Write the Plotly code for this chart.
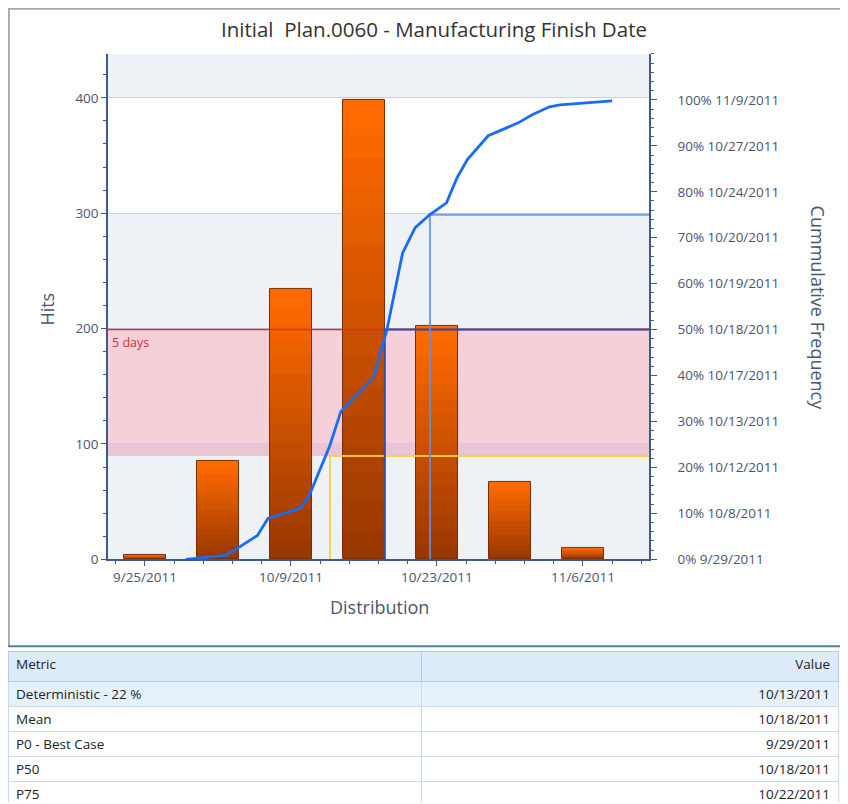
"""
制造完成日期分布图（Plotly 复刻）
- 左轴：命中次数柱状图
- 右轴：累计频率曲线
- 下方：指标表格
"""
import plotly.graph_objects as go

# ---- 数据 ----
week_dates = ["2011-09-25", "2011-10-02", "2011-10-09", "2011-10-16",
              "2011-10-23", "2011-10-30", "2011-11-06"]
hits = [4, 85, 234, 398, 202, 67, 10]

cum_dates = ["2011-09-28 22:00", "2011-10-02 20:00", "2011-10-05 19:00",
             "2011-10-06 19:00", "2011-10-09 22:00", "2011-10-10 19:00",
             "2011-10-12 17:00", "2011-10-13 19:00", "2011-10-16 22:00",
             "2011-10-18 05:00", "2011-10-19 17:00", "2011-10-20 22:00",
             "2011-10-22 07:00", "2011-10-23 22:00", "2011-10-24 22:00",
             "2011-10-25 22:00", "2011-10-27 22:00", "2011-10-30 19:00",
             "2011-11-01 02:00", "2011-11-02 19:00", "2011-11-03 19:00",
             "2011-11-06 10:00", "2011-11-08 19:00"]
cum_pct = [0, 0.9, 5.2, 8.9, 11.1, 14.1, 24.6, 32.2, 39.6, 50, 66.7, 72.2,
           75, 77.6, 83, 87, 92.2, 95, 96.7, 98.5, 98.9, 99.3, 99.8]

pct_ticks = [0, 10, 20, 30, 40, 50, 60, 70, 80, 90, 100]
pct_dates = ["9/29/2011", "10/8/2011", "10/12/2011", "10/13/2011", "10/17/2011",
             "10/18/2011", "10/19/2011", "10/20/2011", "10/24/2011",
             "10/27/2011", "11/9/2011"]

# 标记线：确定性 / 均值(P50) / P75
det_date, det_pct = "2011-10-12 18:00", 22.5
p50_date, p50_pct = "2011-10-18", 50
p75_date, p75_pct = "2011-10-22 08:00", 75
band_label = "5 days"

metrics = ["Deterministic - 22 %", "Mean", "P0 - Best Case", "P50", "P75"]
metric_values = ["10/13/2011", "10/18/2011", "9/29/2011", "10/18/2011", "10/22/2011"]

X_RANGE = ["2011-09-21 11:00", "2011-11-12 08:00"]
W, H = 848, 804
FONT = "Open Sans"
AXIS_BLUE = "#3D5A8C"
TEXT = "#4A5570"

# 页面有 8px 的外边距，按截图像素换算成 paper 坐标
OFF = 8


def px_x(v):
    return max(0.0, (v - OFF) / W)


def px_y(v):
    return min(1.0, 1 - (v - OFF) / (H - OFF))


def blend(c1, c2, t):
    a = [int(c1[i:i + 2], 16) for i in (1, 3, 5)]
    b = [int(c2[i:i + 2], 16) for i in (1, 3, 5)]
    return "#%02x%02x%02x" % tuple(round(a[i] + (b[i] - a[i]) * t) for i in range(3))


fig = go.Figure()

# 渐变柱：从上到下由亮橙到深棕，叠加多层
n_layers = 16
bar_w = 4.1 * 86400000
for i in range(n_layers):
    f = 1 - i / n_layers
    fig.add_trace(go.Bar(
        x=week_dates, y=[h * f for h in hits], width=bar_w,
        marker=dict(color=blend("#FF6A00", "#9A3800", i / (n_layers - 1)), line_width=0),
        hoverinfo="skip", showlegend=False,
    ))
# 柱子边框
fig.add_trace(go.Bar(
    x=week_dates, y=hits, width=bar_w,
    marker=dict(color="rgba(0,0,0,0)", line=dict(color="#7A2E00", width=1)),
    showlegend=False, name="Hits",
))

# 标记线（右轴）
fig.add_trace(go.Scatter(
    x=[det_date, det_date, X_RANGE[1]], y=[0, det_pct, det_pct], yaxis="y2",
    mode="lines", line=dict(color="rgba(248,208,60,0.9)", width=2),
    hoverinfo="skip", showlegend=False,
))
fig.add_trace(go.Scatter(
    x=[X_RANGE[0], X_RANGE[1]], y=[p50_pct, p50_pct], yaxis="y2",
    mode="lines", line=dict(color="#D0303A", width=1.5),
    hoverinfo="skip", showlegend=False,
))
fig.add_trace(go.Scatter(
    x=[p50_date, p50_date, X_RANGE[1]], y=[0, p50_pct, p50_pct], yaxis="y2",
    mode="lines", line=dict(color="#3A4A9C", width=2),
    hoverinfo="skip", showlegend=False,
))
fig.add_trace(go.Scatter(
    x=[p75_date, p75_date, X_RANGE[1]], y=[0, p75_pct, p75_pct], yaxis="y2",
    mode="lines", line=dict(color="rgba(90,145,235,0.85)", width=2),
    hoverinfo="skip", showlegend=False,
))

# 累计频率曲线
fig.add_trace(go.Scatter(
    x=cum_dates, y=cum_pct, yaxis="y2", mode="lines",
    line=dict(color="#1A6CF2", width=2.8), showlegend=False,
    name="Cummulative Frequency",
))

# 指标表格
fig.add_trace(go.Table(
    domain=dict(x=[px_x(8), px_x(838)], y=[0, px_y(652)]),
    columnwidth=[413, 417],
    header=dict(
        values=["Metric", "Value"], align=["left", "right"],
        fill_color="#DCEAFA", line_color="#B5CDEA", height=30,
        font=dict(family=FONT, size=13.5, color="#222"),
    ),
    cells=dict(
        values=[metrics, metric_values], align=["left", "right"],
        fill_color=[["#E6F0FB"] + ["white"] * (len(metrics) - 1)] * 2,
        line_color="#C8DCF0", height=25,
        font=dict(family=FONT, size=13.5, color="#222"),
    ),
))

shapes = []
# 交错背景条
for y0, y1 in [(0, 100), (200, 300), (400, 440)]:
    shapes.append(dict(type="rect", xref="x domain", yref="y", x0=0, x1=1, y0=y0, y1=y1,
                       fillcolor="#EEF1F6", line_width=0, layer="below"))
# 粉色区间
shapes.append(dict(type="rect", xref="x domain", yref="y2", x0=0, x1=1, y0=det_pct, y1=p50_pct,
                   fillcolor="rgba(220,80,110,0.27)", line_width=0, layer="below"))
# 外框
shapes += [
    dict(type="line", xref="paper", yref="paper", x0=0.001, x1=0.001, y0=0.999, y1=px_y(647),
         line=dict(color="#A8A8A8", width=2)),
    dict(type="line", xref="paper", yref="paper", x0=0, x1=1, y0=0.999, y1=0.999,
         line=dict(color="#A8A8A8", width=2)),
    dict(type="line", xref="paper", yref="paper", x0=0, x1=1, y0=px_y(647), y1=px_y(647),
         line=dict(color="#4E7DB0", width=2)),
]

annotations = [
    dict(text="Initial  Plan.0060 - Manufacturing Finish Date", xref="paper", yref="paper",
         x=px_x(434), y=px_y(29), xanchor="center", yanchor="middle", showarrow=False,
         font=dict(family=FONT, size=20.5, color="#333")),
    dict(text="Hits", xref="paper", yref="paper", x=px_x(47), y=px_y(310), textangle=-90,
         xanchor="center", yanchor="middle", showarrow=False,
         font=dict(family=FONT, size=18, color=TEXT)),
    dict(text="Distribution", xref="paper", yref="paper", x=px_x(379), y=px_y(608),
         xanchor="center", yanchor="middle", showarrow=False,
         font=dict(family=FONT, size=18, color=TEXT)),
    dict(text="Cummulative Frequency", xref="paper", yref="paper", x=px_x(818), y=px_y(308),
         textangle=90, xanchor="center", yanchor="middle", showarrow=False,
         font=dict(family=FONT, size=18, color=TEXT)),
    dict(text=band_label, xref="x domain", yref="y2", x=0.003, y=p50_pct - 0.6,
         xanchor="left", yanchor="top", showarrow=False,
         font=dict(family=FONT, size=12.5, color="#D0303A")),
]

fig.update_layout(
    width=W, height=H,
    margin=dict(l=0, r=0, t=0, b=0),
    paper_bgcolor="white", plot_bgcolor="white",
    barmode="overlay", bargap=0,
    font=dict(family=FONT, size=13, color=TEXT),
    shapes=shapes, annotations=annotations,
    xaxis=dict(
        type="date", range=X_RANGE, domain=[px_x(108), px_x(649)],
        tick0="2011-09-25", dtick=14 * 86400000, tickformat="%-m/%-d/%Y",
        ticks="outside", ticklen=5, tickcolor=AXIS_BLUE,
        minor=dict(tick0="2011-09-25", dtick=2.8 * 86400000, ticks="outside",
                   ticklen=3, tickcolor=AXIS_BLUE, showgrid=False),
        showline=True, linecolor=AXIS_BLUE, linewidth=1.5, showgrid=False,
        zeroline=False, tickfont=dict(size=13.5, color=TEXT), anchor="y",
    ),
    yaxis=dict(
        range=[0, 438], domain=[px_y(560), px_y(54)],
        dtick=100, ticks="outside", ticklen=5, tickcolor=AXIS_BLUE,
        minor=dict(dtick=20, ticks="outside", ticklen=3, tickcolor=AXIS_BLUE, showgrid=False),
        showline=True, linecolor=AXIS_BLUE, linewidth=1.5,
        showgrid=True, gridcolor="#C9D2E3", gridwidth=1, zeroline=False,
        tickfont=dict(size=13.5, color=TEXT),
    ),
    yaxis2=dict(
        range=[0, 110], overlaying="y", side="right", anchor="x",
        tickvals=pct_ticks, ticktext=[f"{p}% {d}" for p, d in zip(pct_ticks, pct_dates)],
        ticks="outside", ticklen=6, tickcolor=AXIS_BLUE, ticklabelstandoff=18,
        minor=dict(dtick=2, ticks="outside", ticklen=3, tickcolor=AXIS_BLUE, showgrid=False),
        showline=True, linecolor=AXIS_BLUE, linewidth=1.5, showgrid=False, zeroline=False,
        tickfont=dict(size=13.5, color=TEXT),
    ),
)

fig.write_html("out.html")
